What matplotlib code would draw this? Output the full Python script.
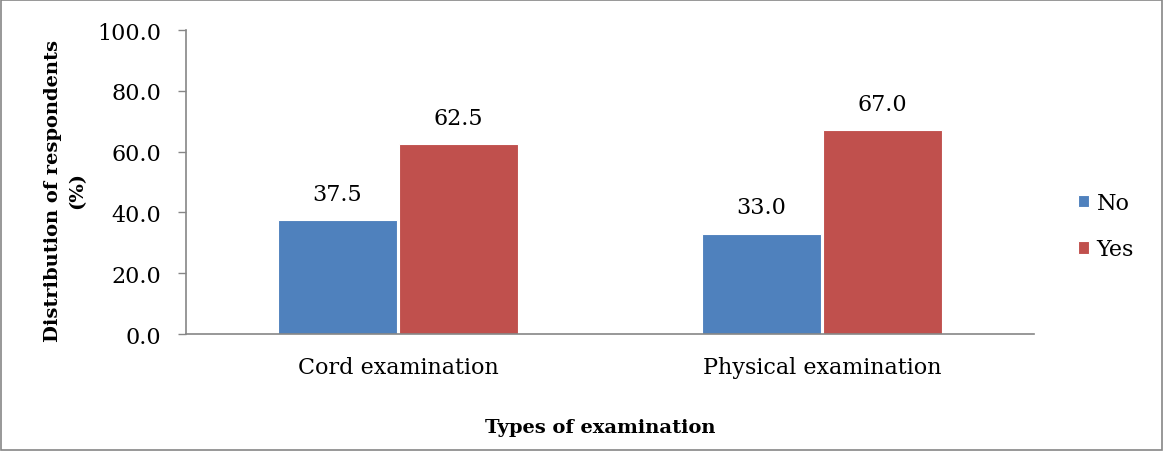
import matplotlib.pyplot as plt
import numpy as np

# chart data
categories = ['Cord examination', 'Physical examination']
no_vals = [37.5, 33.0]
yes_vals = [62.5, 67.0]
series_names = ['No', 'Yes']
yticks = [0, 20, 40, 60, 80, 100]

plt.rcParams['font.family'] = ['DejaVu Serif']

fig = plt.figure(figsize=(11.63, 4.52), dpi=100)
ax = fig.add_axes([0.1599, 0.2588, 0.7292, 0.6726])

x = np.arange(len(categories))
w = 0.281
b1 = ax.bar(x - w / 2 - 0.0025, no_vals, w, color='#4F81BD', edgecolor='white', linewidth=0.8, label=series_names[0])
b2 = ax.bar(x + w / 2 + 0.0025, yes_vals, w, color='#C0504D', edgecolor='white', linewidth=0.8, label=series_names[1])

for bars in (b1, b2):
    for r in bars:
        ax.annotate('%.1f' % r.get_height(), (r.get_x() + r.get_width() / 2, r.get_height()),
                    xytext=(0, 11), textcoords='offset points', ha='center', va='bottom', fontsize=16)

ax.set_xlim(-0.5, 1.5)
ax.set_ylim(0, 100)
ax.set_yticks(yticks)
ax.set_yticklabels(['%.1f' % t for t in yticks], fontsize=16)
ax.set_xticks(x)
ax.set_xticklabels(categories, fontsize=16)
ax.tick_params(axis='x', length=0, pad=16)
ax.tick_params(axis='y', length=6, width=1, color='#868686', pad=12)

for s in ['top', 'right']:
    ax.spines[s].set_visible(False)
for s in ['left', 'bottom']:
    ax.spines[s].set_color('#868686')
    ax.spines[s].set_linewidth(1.2)

fig.text(0.056, 0.578, 'Distribution of respondents\n(%)', rotation=90, ha='center', va='center',
         fontsize=14, fontweight='bold', linespacing=1.45)
fig.text(0.516, 0.053, 'Types of examination', ha='center', va='center', fontsize=14, fontweight='bold')

ax.legend(loc='center left', bbox_to_anchor=(1.028, 0.355), frameon=False, fontsize=16,
          handlelength=0.5, handleheight=0.5, handletextpad=0.35, labelspacing=1.1)

# outer frame
fig.patches.append(plt.Rectangle((0.001, 0.002), 0.998, 0.996, transform=fig.transFigure,
                                 fill=False, edgecolor='#868686', linewidth=1.2))

fig.savefig('out.png', dpi=100)
